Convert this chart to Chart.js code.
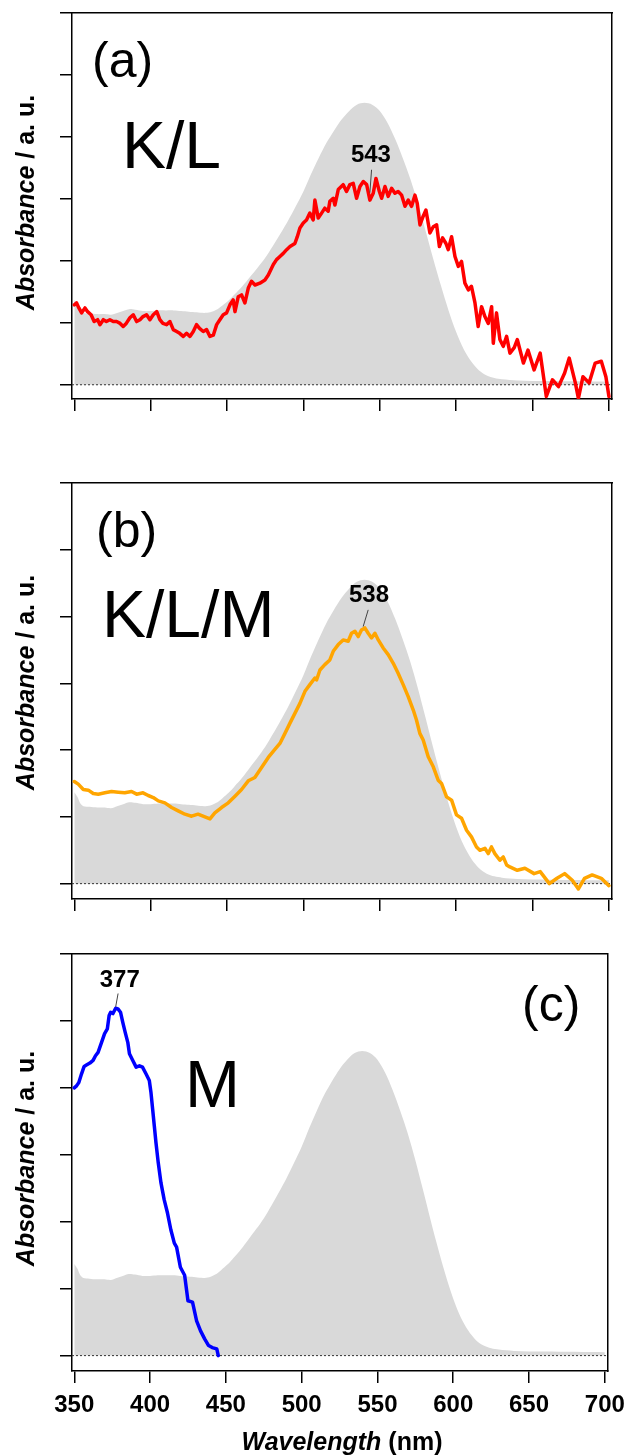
<!DOCTYPE html>
<html>
<head>
<meta charset="utf-8">
<script src="https://cdn.jsdelivr.net/npm/chart.js@4.4.0/dist/chart.umd.min.js"></script>
<style>
  html, body { margin: 0; padding: 0; background: #fff; }
  body { position: relative; width: 633px; height: 1456px; overflow: hidden; font-family: 'Liberation Sans', Arial, sans-serif; color: #000; }
  canvas { position: absolute; left: 0; }
  .lbl { position: absolute; line-height: 1; white-space: nowrap; }
  .panel { font-size: 50px; }
  .sample { font-size: 66px; }
  .ytitle { position: absolute; width: 300px; height: 25px; font-size: 25px; line-height: 25px; font-weight: bold; text-align: center; white-space: nowrap; transform: rotate(-90deg); }
  .xtitle { position: absolute; width: 300px; font-size: 25px; line-height: 1; font-weight: bold; text-align: center; white-space: nowrap; }
</style>
</head>
<body>
<canvas id="chartA" width="633" height="420" style="top:0px"></canvas>
<canvas id="chartB" width="633" height="450" style="top:470px"></canvas>
<canvas id="chartC" width="633" height="516" style="top:940px"></canvas>

<div class="lbl panel" style="left:92px; top:35px">(a)</div>
<div class="lbl sample" style="left:122px; top:112px">K/L</div>
<div class="lbl panel" style="left:96px; top:505px">(b)</div>
<div class="lbl sample" style="left:102px; top:581px">K/L/M</div>
<div class="lbl panel" style="left:522px; top:979px">(c)</div>
<div class="lbl sample" style="left:185px; top:1051px">M</div>

<div class="ytitle" style="left:-125px; top:190px"><i>Absorbance</i> / a. u.</div>
<div class="ytitle" style="left:-125px; top:670px"><i>Absorbance</i> / a. u.</div>
<div class="ytitle" style="left:-125px; top:1146px"><i>Absorbance</i> / a. u.</div>
<div class="xtitle" style="left:192px; top:1429px"><i>Wavelength</i> (nm)</div>

<script>
const FONT = "'Liberation Sans', Arial, sans-serif";

// axis ranges and ticks
const xMin = 348.5, xMax = 702;
const yMin = -0.23, yMax = 6;
const xTickValues = [350, 400, 450, 500, 550, 600, 650, 700];
const yTickValues = [0, 1, 2, 3, 4, 5, 6];

// grey reference spectrum (same in every panel)
const refWavelength = [350, 352, 354, 356, 360, 365, 370, 374, 378, 382, 386, 390, 395, 400, 405, 410, 415, 420, 425, 430, 435, 439, 443, 447, 451, 455, 460, 465, 470, 475, 480, 485, 490, 495, 500, 505, 510, 515, 520, 525, 530, 535, 540, 545, 550, 555, 560, 565, 570, 575, 580, 585, 590, 595, 600, 605, 610, 615, 620, 625, 630, 640, 660, 700];
const refAbsorbance = [1.37, 1.30, 1.20, 1.16, 1.15, 1.14, 1.14, 1.13, 1.16, 1.19, 1.22, 1.21, 1.19, 1.19, 1.20, 1.20, 1.20, 1.19, 1.18, 1.17, 1.16, 1.17, 1.21, 1.28, 1.36, 1.46, 1.59, 1.74, 1.89, 2.05, 2.24, 2.44, 2.65, 2.88, 3.12, 3.40, 3.66, 3.90, 4.10, 4.28, 4.42, 4.52, 4.55, 4.52, 4.42, 4.23, 3.97, 3.66, 3.32, 2.92, 2.48, 2.03, 1.60, 1.20, 0.85, 0.57, 0.37, 0.23, 0.15, 0.11, 0.09, 0.07, 0.06, 0.05];

// (a) K/L
const klWavelength = [350, 351.5, 353, 354.8, 357, 358.7, 361, 363, 365.3, 366.8, 369, 371, 373.3, 375.5, 377.7, 380, 382, 384, 386.4, 388.6, 390.8, 393, 395, 397.3, 399.5, 401.7, 404, 406, 408, 410.4, 412.6, 414.8, 417, 419, 421.3, 423.5, 425.7, 427.9, 430, 432, 434.4, 436.6, 438.8, 441, 443.2, 445.3, 447.5, 449.7, 451.9, 454, 455.2, 457.3, 459.5, 461.7, 463.9, 466, 468.3, 471.5, 474.8, 477, 480.3, 482.4, 484.6, 486.8, 489, 491.2, 494.4, 496, 497.7, 499.9, 502, 504.2, 506.4, 507.5, 509.7, 511.9, 514, 516.2, 517.3, 519.5, 520.6, 522.8, 526, 528.2, 530.4, 532.6, 534.8, 537, 539.2, 541.4, 543.5, 545.7, 547.5, 549.7, 551.2, 553.4, 555.5, 557.7, 559.9, 562, 564.3, 566.5, 568.6, 570.8, 573, 574.5, 576.3, 578.4, 580.2, 582.8, 585, 587.2, 589, 591.1, 593.3, 594.8, 597, 599.2, 601.4, 603.5, 605.7, 608, 610, 612.3, 614.4, 616.6, 618.8, 621, 623.2, 624.3, 626.4, 628.6, 630.8, 633, 635.2, 638, 640, 644, 647, 651, 655, 659, 663, 667, 671, 674, 678, 680, 683, 687, 691, 695, 698, 700];
const klAbsorbance = [1.29, 1.32, 1.24, 1.16, 1.24, 1.18, 1.13, 1.02, 1.05, 0.97, 1.05, 1.02, 1.05, 1.02, 1.02, 0.99, 0.94, 0.99, 1.08, 1.13, 1.02, 1.05, 1.10, 1.13, 1.05, 1.13, 1.18, 1.05, 0.99, 0.97, 1.02, 0.89, 0.86, 0.83, 0.78, 0.83, 0.78, 0.86, 0.97, 0.91, 0.86, 0.89, 0.78, 0.80, 0.97, 1.05, 1.13, 1.16, 1.29, 1.37, 1.18, 1.42, 1.45, 1.32, 1.56, 1.67, 1.61, 1.64, 1.69, 1.77, 1.94, 2.02, 2.07, 2.12, 2.18, 2.23, 2.28, 2.39, 2.53, 2.61, 2.66, 2.77, 2.66, 2.98, 2.69, 2.77, 2.85, 2.80, 2.96, 3.01, 2.90, 3.15, 3.23, 3.12, 3.23, 3.25, 3.01, 3.20, 3.28, 3.23, 2.98, 3.09, 3.33, 3.12, 3.01, 3.20, 3.04, 3.17, 3.09, 3.12, 3.06, 2.88, 2.98, 2.88, 3.06, 2.93, 2.58, 2.72, 2.82, 2.45, 2.55, 2.58, 2.23, 2.37, 2.28, 2.18, 2.39, 2.07, 1.91, 1.99, 1.64, 1.53, 1.59, 1.32, 0.94, 1.26, 1.10, 0.99, 1.26, 0.67, 1.16, 0.73, 0.62, 0.78, 0.51, 0.60, 0.73, 0.35, 0.56, 0.24, 0.51, -0.19, 0.08, -0.03, 0.19, 0.43, 0.03, -0.22, 0.13, 0.03, 0.35, 0.38, 0.13, -0.19];

// (b) K/L/M
const klmWavelength = [350, 352.6, 355.9, 359.2, 362.4, 365.7, 370, 374.4, 378.8, 383, 387.5, 390.8, 395, 398.4, 401.7, 405, 409.3, 413.7, 418, 422.4, 426.8, 431, 435.5, 438.8, 442, 446.4, 450.8, 455.2, 459.5, 463.9, 468.2, 472.6, 477, 481.3, 484.6, 487.9, 491.1, 494.4, 497.7, 501, 504.2, 507.5, 508.6, 510.8, 514, 517.3, 519.5, 522.8, 526, 529.3, 531.5, 533.7, 535.9, 538, 540.2, 542.4, 544.6, 546.8, 549, 552.2, 555.5, 558.8, 562, 565.3, 568.6, 571.9, 574, 576.2, 578.4, 581.7, 585, 588.2, 590.4, 593.7, 597, 600.2, 603.5, 606.8, 610, 613.3, 615.5, 618.8, 621, 623.1, 625.3, 628.6, 630.8, 633, 635.1, 640, 645, 651, 655, 661, 666, 671, 676, 680, 684, 689, 695, 700];
const klmAbsorbance = [1.53, 1.49, 1.41, 1.40, 1.35, 1.34, 1.36, 1.38, 1.37, 1.36, 1.38, 1.34, 1.36, 1.32, 1.29, 1.24, 1.21, 1.14, 1.09, 1.04, 1.01, 1.04, 1.00, 0.97, 1.06, 1.14, 1.21, 1.31, 1.41, 1.54, 1.59, 1.74, 1.89, 2.01, 2.10, 2.25, 2.40, 2.55, 2.70, 2.88, 2.98, 3.08, 3.05, 3.20, 3.28, 3.35, 3.48, 3.58, 3.65, 3.63, 3.75, 3.78, 3.70, 3.80, 3.83, 3.75, 3.68, 3.75, 3.65, 3.53, 3.43, 3.30, 3.15, 2.98, 2.80, 2.60, 2.45, 2.25, 2.15, 1.90, 1.75, 1.55, 1.50, 1.30, 1.25, 1.03, 0.98, 0.80, 0.70, 0.55, 0.50, 0.53, 0.45, 0.55, 0.45, 0.35, 0.40, 0.28, 0.25, 0.20, 0.23, 0.15, 0.18, 0.00, 0.08, 0.15, 0.05, -0.08, 0.08, 0.13, 0.08, -0.03];

// (c) M
const mWavelength = [350, 351.5, 353, 354.8, 356.5, 358, 360.3, 362.4, 364, 365.7, 368, 370, 371.8, 373, 374, 375.5, 377.3, 378.8, 380.5, 382, 383.6, 385.3, 386.4, 388.6, 390.8, 393, 395, 397.3, 399.5, 400.6, 401.7, 402.8, 403.9, 405.4, 407.2, 409.3, 411.5, 413.7, 416, 417.5, 420, 422.8, 425, 428, 430.7, 433.3, 436, 438.6, 441, 444, 445];
const mAbsorbance = [4.00, 4.03, 4.08, 4.21, 4.32, 4.34, 4.37, 4.41, 4.48, 4.53, 4.68, 4.81, 4.88, 5.08, 5.13, 5.11, 5.19, 5.18, 5.13, 4.98, 4.83, 4.68, 4.51, 4.41, 4.31, 4.33, 4.31, 4.21, 4.11, 3.93, 3.68, 3.43, 3.18, 2.88, 2.58, 2.33, 2.13, 1.88, 1.68, 1.62, 1.32, 1.20, 0.82, 0.80, 0.52, 0.37, 0.25, 0.15, 0.12, 0.10, 0.00];

// dotted zero line spans the whole axis
const zeroLineX = [xMin, xMax];
const zeroLineY = [0, 0];

const toPoints = (xs, ys) => xs.map((x, i) => ({ x: x, y: ys[i] }));

// peak label + leader line, placed in data units
const peakLabelPlugin = {
  id: 'peakLabel',
  afterDatasetsDraw(chart, args, opts) {
    if (!opts || !opts.text) return;
    const { ctx, scales: { x, y } } = chart;
    ctx.save();
    ctx.strokeStyle = '#444';
    ctx.lineWidth = 1;
    ctx.beginPath();
    ctx.moveTo(x.getPixelForValue(opts.lineFrom[0]), y.getPixelForValue(opts.lineFrom[1]));
    ctx.lineTo(x.getPixelForValue(opts.lineTo[0]), y.getPixelForValue(opts.lineTo[1]));
    ctx.stroke();
    ctx.fillStyle = '#000';
    ctx.font = 'bold 24px ' + FONT;
    ctx.textAlign = 'center';
    ctx.textBaseline = 'middle';
    ctx.fillText(opts.text, x.getPixelForValue(opts.at[0]), y.getPixelForValue(opts.at[1]));
    ctx.restore();
  }
};

const panels = [
  { id: 'chartA', padTop: 13, padBottom: 9, xAxisH: 12, showX: false, color: '#ff0000',
    xs: klWavelength, ys: klAbsorbance,
    peak: { text: '543', at: [544.2, 3.71], lineFrom: [544.6, 3.47], lineTo: [543.5, 3.10] } },
  { id: 'chartB', padTop: 13, padBottom: 9, xAxisH: 12, showX: false, color: '#ffa500',
    xs: klmWavelength, ys: klmAbsorbance,
    peak: { text: '538', at: [542.9, 4.31], lineFrom: [542.4, 4.10], lineTo: [539.1, 3.85] } },
  { id: 'chartC', padTop: 14, padBottom: 0, xAxisH: 85, showX: true, color: '#0000ff',
    xs: mWavelength, ys: mAbsorbance,
    peak: { text: '377', at: [380.0, 5.61], lineFrom: [378.9, 5.41], lineTo: [377.3, 5.21] } }
];

const tickGrid = { drawOnChartArea: false, drawTicks: true, tickLength: 12, color: '#000', lineWidth: 1.5 };
const frame = { display: true, color: '#000', width: 1.5 };

panels.forEach(p => {
  new Chart(document.getElementById(p.id), {
    type: 'line',
    data: {
      datasets: [
        {
          data: toPoints(p.xs, p.ys),
          borderColor: p.color,
          borderWidth: 3.5,
          borderJoinStyle: 'round',
          borderCapStyle: 'round',
          pointRadius: 0,
          tension: 0,
          fill: false,
          order: 0
        },
        {
          data: toPoints(zeroLineX, zeroLineY),
          borderColor: '#333',
          borderWidth: 1,
          borderDash: [2, 2],
          pointRadius: 0,
          fill: false,
          order: 1
        },
        {
          data: toPoints(refWavelength, refAbsorbance),
          borderWidth: 0,
          borderColor: 'rgba(0,0,0,0)',
          backgroundColor: '#d9d9d9',
          pointRadius: 0,
          tension: 0.3,
          fill: 'origin',
          order: 2
        }
      ]
    },
    options: {
      responsive: false,
      animation: false,
      devicePixelRatio: 1,
      events: [],
      layout: { padding: { left: 0, right: 21, top: p.padTop, bottom: p.padBottom } },
      plugins: {
        legend: { display: false },
        tooltip: { enabled: false },
        peakLabel: p.peak
      },
      scales: {
        x: {
          type: 'linear', position: 'bottom', min: xMin, max: xMax,
          afterBuildTicks: s => { s.ticks = xTickValues.map(v => ({ value: v })); },
          afterFit: s => { s.height = p.xAxisH; },
          ticks: {
            display: p.showX, color: '#000', padding: 8, maxRotation: 0, autoSkip: false,
            font: { family: FONT, size: 24, weight: 'bold' },
            callback: v => String(v)
          },
          grid: tickGrid,
          border: frame
        },
        y: {
          type: 'linear', position: 'left', min: yMin, max: yMax,
          afterBuildTicks: s => { s.ticks = yTickValues.map(v => ({ value: v })); },
          afterFit: s => { s.width = 72; },
          ticks: { display: false },
          grid: tickGrid,
          border: frame
        },
        x2: {
          type: 'linear', position: 'top', min: xMin, max: xMax,
          afterFit: s => { s.height = 0; },
          ticks: { display: false },
          grid: { display: false, drawTicks: false },
          border: frame
        },
        y2: {
          type: 'linear', position: 'right', min: yMin, max: yMax,
          afterFit: s => { s.width = 0; },
          ticks: { display: false },
          grid: { display: false, drawTicks: false },
          border: frame
        }
      }
    },
    plugins: [peakLabelPlugin]
  });
});
</script>
</body>
</html>
